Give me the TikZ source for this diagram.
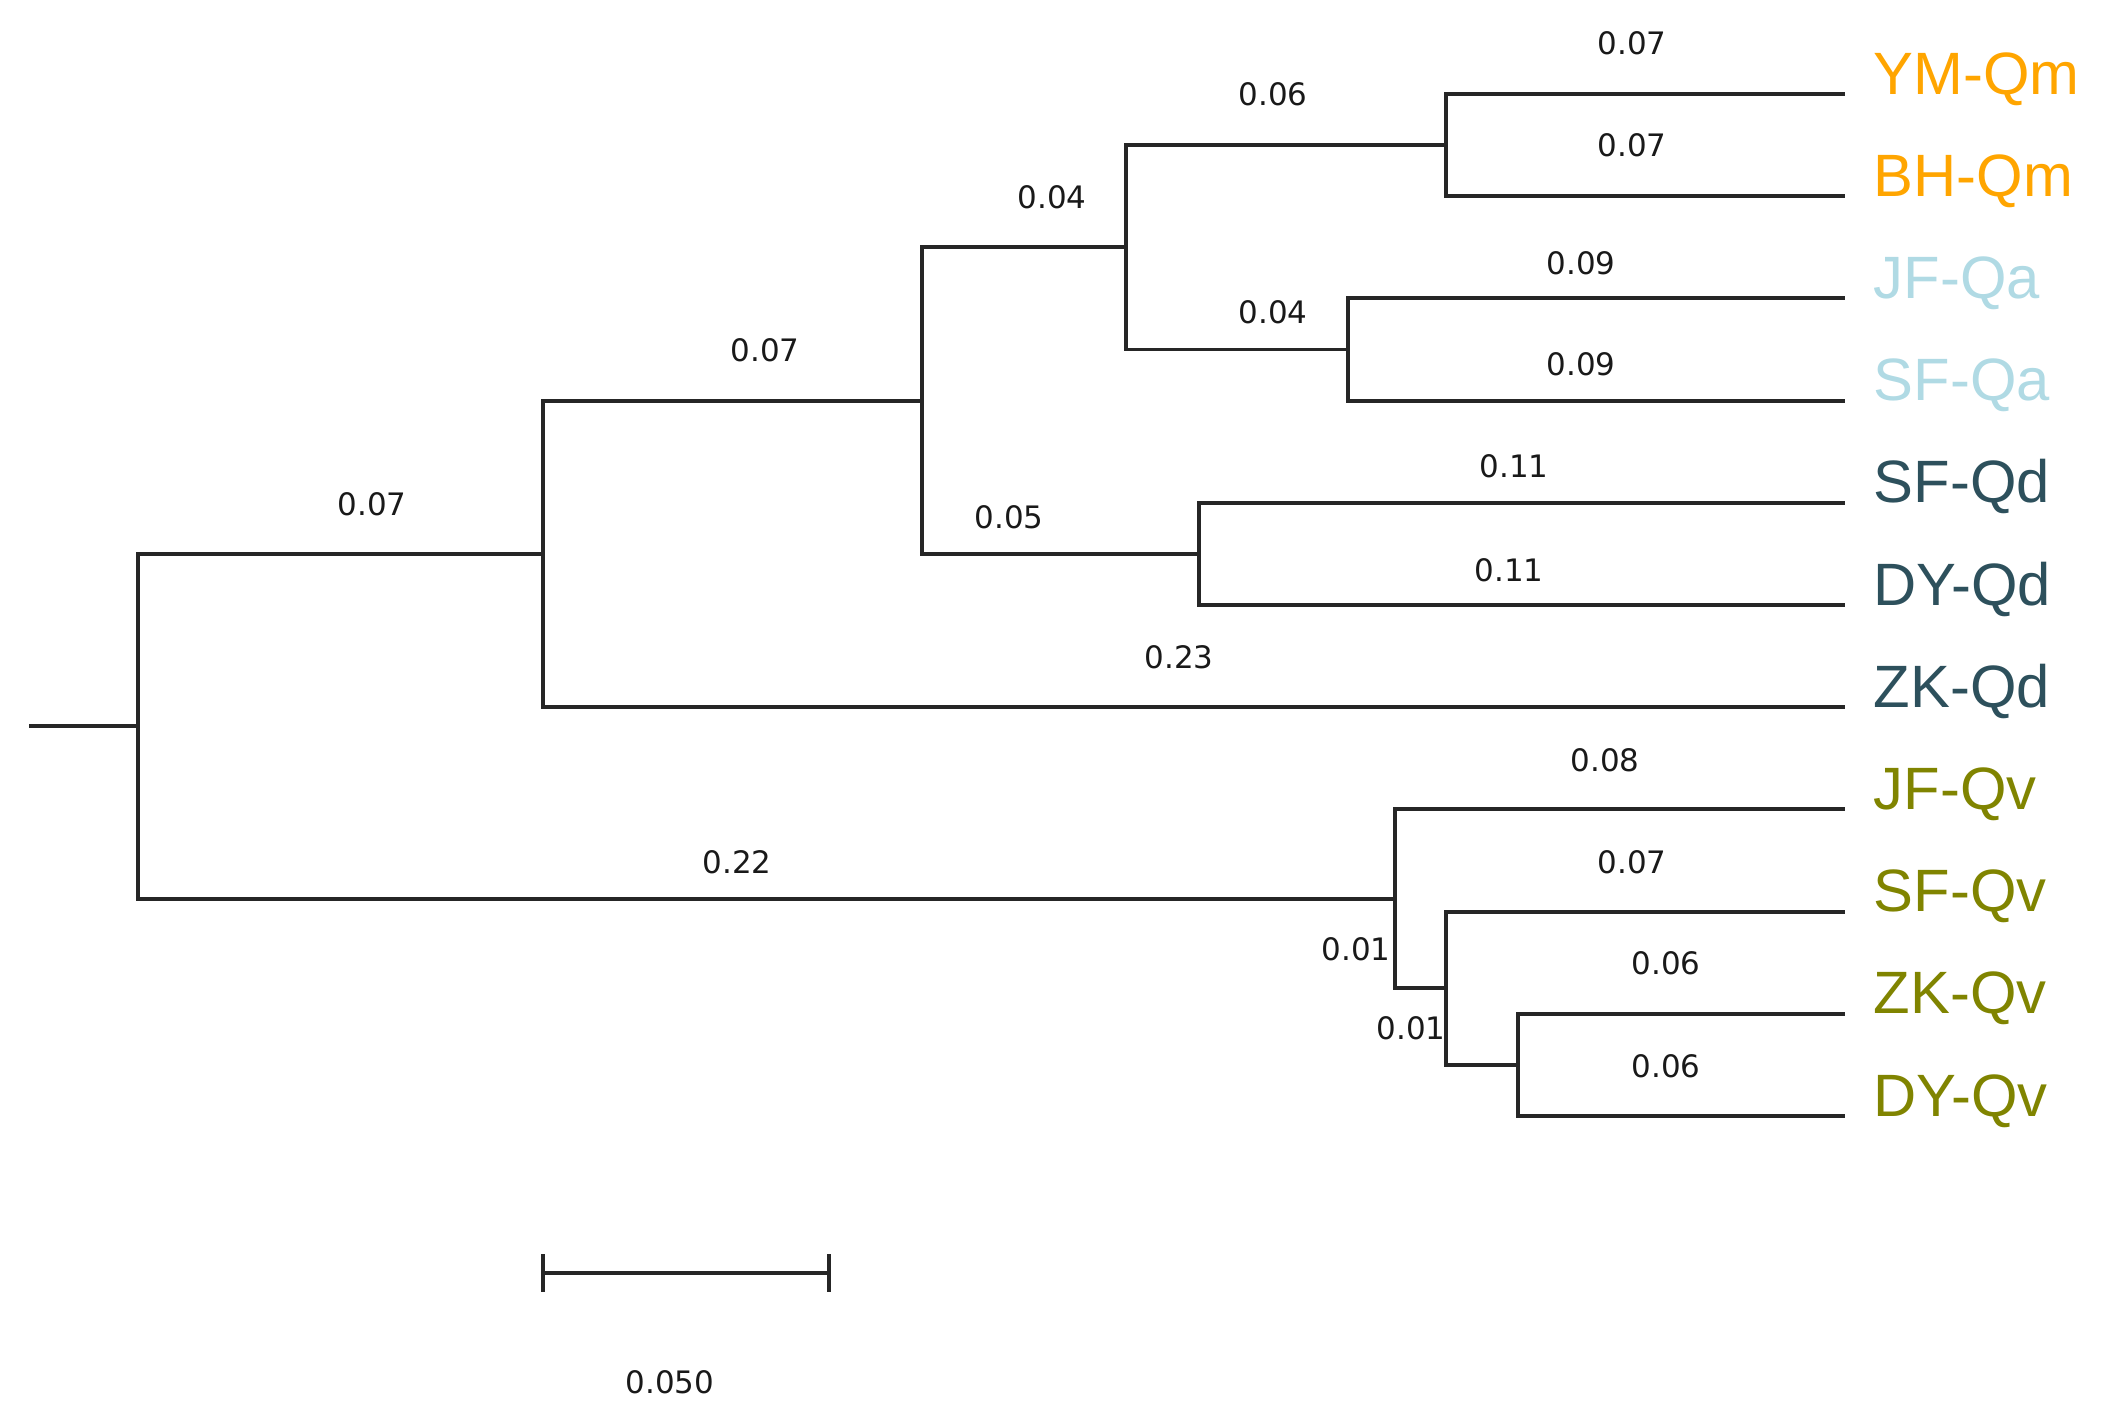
\documentclass[tikz,border=0pt]{standalone}
\usepackage{fontspec}
\setmainfont{Liberation Sans}
\newfontfamily\lenfont{DejaVu Sans}
\usepackage{tikz}
\usetikzlibrary{positioning}
\definecolor{qmorange}{RGB}{255,165,0}
\definecolor{qablue}{RGB}{176,218,228}
\definecolor{qdslate}{RGB}{45,80,92}
\definecolor{qvolive}{RGB}{128,132,0}

\begin{document}
\begin{tikzpicture}[x=0.01cm,y=-0.01cm,
  branch/.style={line width=1.1pt,black!85},
  taxon/.style={anchor=base west,inner sep=0pt,font=\fontsize{17}{20}\selectfont},
  blen/.style={inner sep=0pt,text=black!90,font=\lenfont\fontsize{8.8}{10}\selectfont}]
  \useasboundingbox (0,0) rectangle (2101,1424);
  % internal nodes
  \coordinate (stub) at (29,726.4);
  \coordinate (root) at (138,726.4);
  \coordinate (nA) at (543,553.9);
  \coordinate (nB) at (922,400.6);
  \coordinate (nC) at (1126,247.3);
  \coordinate (nD) at (1446,145.1);
  \coordinate (nE) at (1348,349.5);
  \coordinate (nF) at (1199,553.9);
  \coordinate (nG) at (1395,898.8);
  \coordinate (nH) at (1446,988.3);
  \coordinate (nI) at (1518,1064.9);
  % leaves
  \foreach \name/\lab/\col [count=\i from 0] in {ymqm/YM-Qm/qmorange,bhqm/BH-Qm/qmorange,
      jfqa/JF-Qa/qablue,sfqa/SF-Qa/qablue,sfqd/SF-Qd/qdslate,dyqd/DY-Qd/qdslate,
      zkqd/ZK-Qd/qdslate,jfqv/JF-Qv/qvolive,sfqv/SF-Qv/qvolive,zkqv/ZK-Qv/qvolive,
      dyqv/DY-Qv/qvolive} {
    \coordinate (\name) at (1845,94+102.2*\i);
    \node[taxon,text=\col] (l-\name) at (1873,94+102.2*\i) {\lab};
  }
  % branches
  \draw[branch] (stub) -- (root);
  \draw[branch] (root) |- (nA);
  \draw[branch] (root) |- (nG);
  \draw[branch] (nA) |- (nB);
  \draw[branch] (nA) |- (zkqd);
  \draw[branch] (nB) |- (nC);
  \draw[branch] (nB) |- (nF);
  \draw[branch] (nC) |- (nD);
  \draw[branch] (nC) |- (nE);
  \draw[branch] (nD) |- (ymqm);
  \draw[branch] (nD) |- (bhqm);
  \draw[branch] (nE) |- (jfqa);
  \draw[branch] (nE) |- (sfqa);
  \draw[branch] (nF) |- (sfqd);
  \draw[branch] (nF) |- (dyqd);
  \draw[branch] (nG) |- (jfqv);
  \draw[branch] (nG) |- (nH);
  \draw[branch] (nH) |- (sfqv);
  \draw[branch] (nH) |- (nI);
  \draw[branch] (nI) |- (zkqv);
  \draw[branch] (nI) |- (dyqv);
  % branch lengths
  \node[blen] (b-ymqm) at (1632,43) {0.07};
  \node[blen] (b-bhqm) at (1632,145) {0.07};
  \node[blen] (b-nD) at (1273,94) {0.06};
  \node[blen] (b-nC) at (1052,197) {0.04};
  \node[blen] (b-jfqa) at (1581,263) {0.09};
  \node[blen] (b-sfqa) at (1581,364) {0.09};
  \node[blen] (b-nE) at (1273,312) {0.04};
  \node[blen] (b-nB) at (765,350) {0.07};
  \node[blen] (b-sfqd) at (1514,466) {0.11};
  \node[blen] (b-dyqd) at (1509,570) {0.11};
  \node[blen] (b-nF) at (1009,517) {0.05};
  \node[blen] (b-nA) at (372,504) {0.07};
  \node[blen] (b-zkqd) at (1179,657) {0.23};
  \node[blen] (b-jfqv) at (1605,760) {0.08};
  \node[blen] (b-nG) at (737,862) {0.22};
  \node[blen] (b-sfqv) at (1632,862) {0.07};
  \node[blen] (b-nH) at (1356,949) {0.01};
  \node[blen] (b-zkqv) at (1666,963) {0.06};
  \node[blen] (b-nI) at (1411,1028) {0.01};
  \node[blen] (b-dyqv) at (1666,1066) {0.06};
  % scale bar
  \coordinate (sbl) at (543,1273);
  \coordinate (sbr) at (829,1273);
  \draw[branch] (sbl) -- (sbr);
  \draw[branch] (sbl) ++(0,-19) -- ++(0,38);
  \draw[branch] (sbr) ++(0,-19) -- ++(0,38);
  \node[blen] (sb-label) at (670,1382) {0.050};
\end{tikzpicture}
\end{document}
